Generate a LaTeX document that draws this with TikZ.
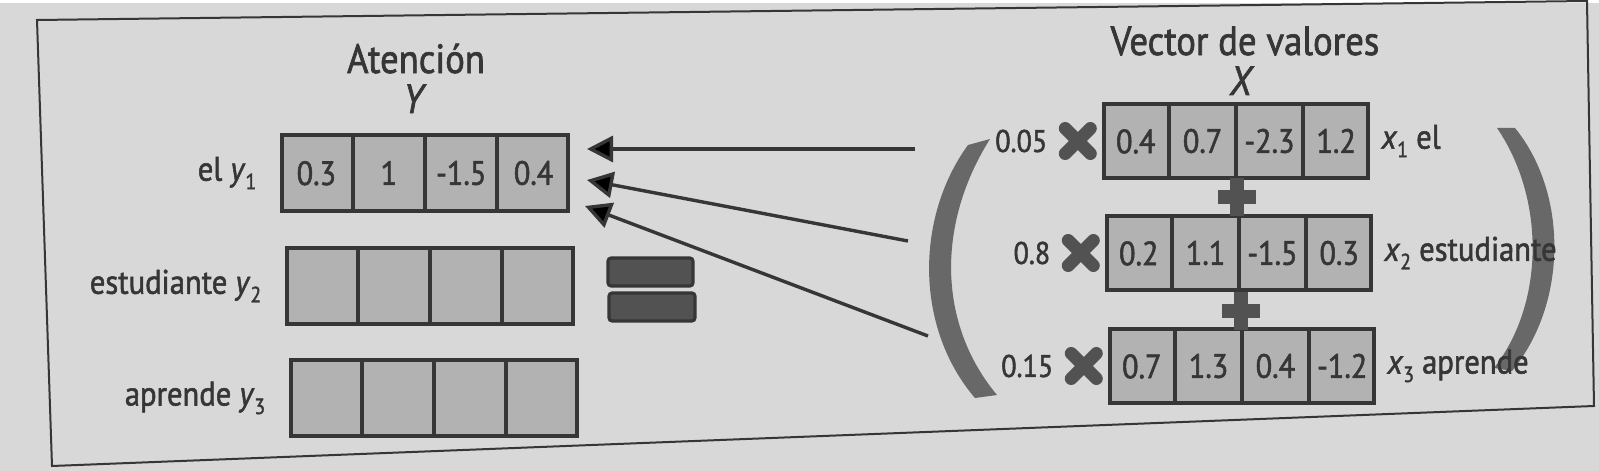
\documentclass[tikz,border=0pt]{standalone}
\usepackage{fontspec}
\setmainfont{PT Sans}[FakeStretch=0.9, FakeBold=1.6]
\usetikzlibrary{arrows.meta, positioning, shapes.multipart, shapes.misc}

\definecolor{paper}{HTML}{D8D8D8}
\definecolor{cellgray}{HTML}{B2B2B2}
\definecolor{ink}{HTML}{363636}
\definecolor{bargray}{HTML}{525252}
\definecolor{parengray}{HTML}{686868}

\newcommand{\sbs}[1]{\raisebox{-0.5ex}{\fontsize{5.5}{6}\selectfont #1}}

\begin{document}
\begin{tikzpicture}[x=0.25pt, y=-0.25pt,
  vec/.style={rectangle split, rectangle split horizontal, rectangle split parts=4,
    draw=ink, line width=1pt, fill=cellgray, inner sep=0pt, align=center,
    text=ink, font=\fontsize{8.4}{9}\selectfont},
  yvec/.style={vec, text width=17.1pt, text height=12.5pt, text depth=6.5pt},
  xvec/.style={vec, text width=15.7pt, text height=12.3pt, text depth=6.2pt},
  lbl/.style={inner sep=0pt, outer sep=0pt, text=ink, font=\fontsize{8.5}{10}\selectfont},
  ttl/.style={inner sep=0pt, text=ink, font=\fontsize{10.2}{12}\selectfont},
  wgt/.style={inner sep=0pt, outer sep=0pt, text=ink, font=\fontsize{7.8}{9}\selectfont},
  crossx/.style={cross out, draw=bargray, line width=3.2pt, line cap=round,
    minimum size=6.3pt, inner sep=0pt, outer sep=0pt},
  arr/.style={-{Triangle[length=6.5pt, width=6.5pt]}, line width=0.85pt, draw=ink},
  eqbar/.style={fill=bargray, draw=ink, line width=0.8pt, rounded corners=0.8pt},
  plusbar/.style={draw=bargray, line width=3.3pt}]

  % page and frame
  \fill[paper] (0,0) rectangle (1599,468);
  \draw[ink, line width=0.5pt] (37,17) -- (1587,-2) -- (1594,403) -- (52,463) -- cycle;

  % brackets
  \fill[parengray] (968,142) .. controls (915,215) and (915,325) .. (975,395)
    -- (997,392) .. controls (937,320) and (937,220) .. (990,136) -- cycle;
  \fill[parengray] (1515,125) .. controls (1568,190) and (1568,300) .. (1512,368)
    -- (1494,365) .. controls (1545,300) and (1545,195) .. (1497,125) -- cycle;

  % attention output Y
  \node[ttl, anchor=base] (att) at (416,70) {Atención};
  \node[ttl, anchor=base] (ynm) at (415,110) {\textit{Y}};
  \node[yvec] (y1) at (425,170) {0.3\nodepart{two}1\nodepart{three}-1.5\nodepart{four}0.4};
  \node[yvec] (y2) at (430,283) {\mbox{}\nodepart{two}\mbox{}\nodepart{three}\mbox{}\nodepart{four}\mbox{}};
  \node[yvec] (y3) at (434,395) {\mbox{}\nodepart{two}\mbox{}\nodepart{three}\mbox{}\nodepart{four}\mbox{}};
  \node[lbl, left=6pt of y1] (ly1) {el~\textit{y}\sbs{1}};
  \node[lbl, left=6pt of y2] (ly2) {estudiante~\textit{y}\sbs{2}};
  \node[lbl, left=6pt of y3] (ly3) {aprende~\textit{y}\sbs{3}};

  % equals sign
  \draw[eqbar] (608,255) rectangle (693,283);
  \draw[eqbar] (609,290) rectangle (695,318);

  % value vectors X
  \node[ttl, anchor=base] (val) at (1245,52) {Vector de valores};
  \node[ttl, anchor=base] (xnm) at (1242,92) {\textit{X}};
  \node[xvec] (x1) at (1236,138) {0.4\nodepart{two}0.7\nodepart{three}-2.3\nodepart{four}1.2};
  \node[xvec] (x2) at (1239,250) {0.2\nodepart{two}1.1\nodepart{three}-1.5\nodepart{four}0.3};
  \node[xvec] (x3) at (1242,363) {0.7\nodepart{two}1.3\nodepart{three}0.4\nodepart{four}-1.2};
  \node[lbl, right=3pt of x1] (lx1) {\textit{x}\sbs{1} el};
  \node[lbl, right=3pt of x2] (lx2) {\textit{x}\sbs{2} estudiante};
  \node[lbl, right=3pt of x3] (lx3) {\textit{x}\sbs{3} aprende};

  % weights
  \node[crossx, left=3pt of x1] (c1) {};
  \node[crossx, left=3pt of x2] (c2) {};
  \node[crossx, left=3pt of x3] (c3) {};
  \node[wgt, left=4.5pt of c1] (w1) {0.05};
  \node[wgt, left=4.5pt of c2] (w2) {0.8};
  \node[wgt, left=4.5pt of c3] (w3) {0.15};

  % plus signs
  \draw[plusbar] (1218,194) -- (1256,194) (1237,175) -- (1237,213);
  \draw[plusbar] (1222,308) -- (1260,308) (1241,289) -- (1241,327);

  % arrows into y1
  \coordinate (s1) at (915,146);
  \coordinate (s2) at (908,238);
  \coordinate (s3) at (928,333);
  \coordinate (t1) at (587,146);
  \coordinate (t2) at (587,177);
  \coordinate (t3) at (585,203);
  \draw[arr] (s1) -- (t1);
  \draw[arr] (s2) -- (t2);
  \draw[arr] (s3) -- (t3);
\end{tikzpicture}
\end{document}
